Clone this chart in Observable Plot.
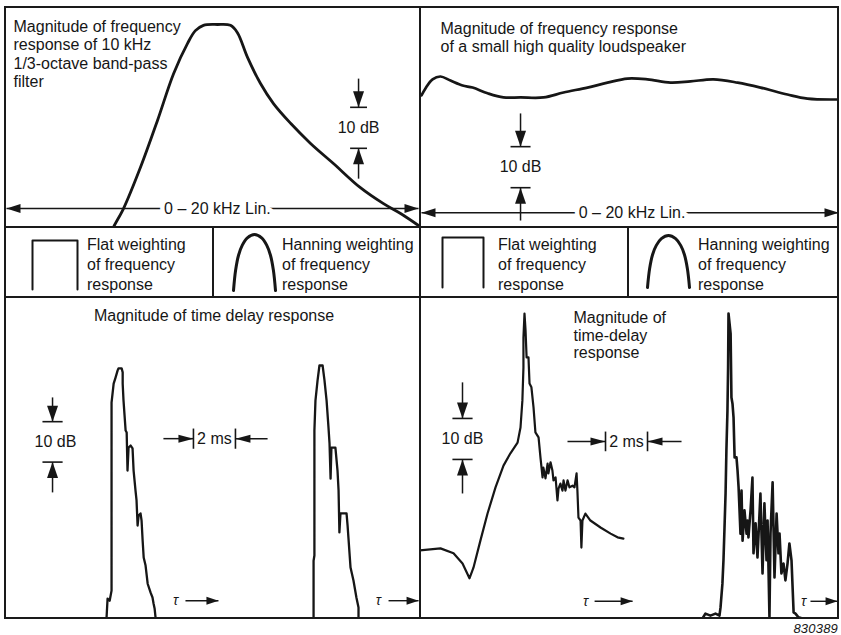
<!DOCTYPE html>
<html>
<head>
<meta charset="utf-8">
<script src="https://cdn.jsdelivr.net/npm/d3@7"></script>
<script src="https://cdn.jsdelivr.net/npm/@observablehq/plot@0.6"></script>
<style>
  body { margin: 0; background: #fff; }
  #fig { position: relative; width: 841px; height: 635px; font-family: 'Liberation Sans', Arial, Helvetica, sans-serif; color: #161616; overflow: hidden; }
  .abs { position: absolute; }
  .abs svg { display: block; background: transparent; }
  .rule { position: absolute; background: #1a1a1a; z-index: 5; }
  .note { position: absolute; font-size: 16px; line-height: 20px; white-space: nowrap; }
  .caption { position: absolute; right: 3px; top: 621px; font-size: 13px; font-style: italic; letter-spacing: 0.2px; }
</style>
</head>
<body>
<div id="fig"></div>
<script>
// ---------- data ----------
// 10 kHz 1/3-octave band-pass filter: magnitude (dB re peak) against frequency (kHz)
const filterFreq = [5.05, 5.19, 5.68, 6.50, 7.33, 8.11, 8.79, 9.17, 9.56, 10.24, 10.87, 11.21, 11.70, 12.33, 12.96, 13.79, 14.76, 15.87, 17.18, 18.30, 19.13, 20.0, 20.3];
const filterDb   = [-51.5, -49.5, -44.9, -34.9, -23.4, -12.0, -4.6, -1.5, -0.2, 0, -0.2, -2.0, -8.0, -14.4, -19.3, -24.1, -29.0, -33.9, -39.8, -43.7, -46.1, -49.0, -50.0];

// small high quality loudspeaker: magnitude (dB re maximum) against frequency (kHz)
const speakerFreq = [0.0, 0.19, 0.53, 0.91, 1.39, 1.97, 2.45, 3.17, 3.93, 4.75, 5.85, 6.81, 7.96, 8.92, 9.88, 10.84, 11.94, 12.90, 14.00, 15.16, 16.26, 17.55, 18.51, 20.0];
const speakerDb   = [-4.6, -2.9, -0.7, 0, -1.0, -2.2, -2.7, -4.1, -5.1, -5.1, -5.1, -3.9, -2.7, -1.5, -0.5, -0.7, -1.5, -1.2, -0.7, -1.5, -2.7, -4.4, -5.4, -5.6];

// time-delay magnitude: τ (ms re peak) and level (dB re peak)
const filterFlatTau = [-0.67, -0.62, -0.52, -0.43, -0.43, -0.33, -0.24, -0.14, -0.10, 0.05, 0.10, 0.10, 0.14, 0.19, 0.24, 0.29, 0.33, 0.38, 0.48, 0.57, 0.62, 0.71, 0.76, 0.81, 0.86, 0.95, 1.00, 1.05, 1.10, 1.19, 1.29, 1.43, 1.52, 1.57, 1.62, 1.67];
const filterFlatDb  = [-62.6, -57.7, -58.2, -55.7, -9.2, -4.5, -3.0, -1.2, -0.7, -0.7, -1.7, -4.5, -8.7, -12.4, -16.1, -16.6, -26.0, -20.3, -19.8, -20.5, -26.0, -30.9, -33.4, -39.6, -37.1, -36.6, -38.4, -43.3, -47.5, -49.5, -54.0, -56.2, -57.4, -58.9, -60.1, -62.6];

const filterHannTau = [-0.33, -0.33, -0.29, -0.29, -0.24, -0.14, -0.05, 0.10, 0.19, 0.29, 0.38, 0.43, 0.48, 0.52, 0.71, 0.81, 0.86, 0.90, 0.95, 1.24, 1.29, 1.33, 1.43, 1.57, 1.71, 1.81, 1.81];
const filterHannDb  = [-62.6, -48.3, -47.0, -16.1, -8.7, -3.7, 0, 0, -3.7, -8.7, -15.3, -19.3, -28.0, -20.3, -20.3, -26.0, -30.9, -41.3, -36.6, -36.6, -39.6, -42.6, -50.0, -53.2, -57.4, -59.9, -62.6];

const speakerFlatTau = [-5.00, -4.00, -3.38, -2.95, -2.62, -2.43, -2.10, -1.76, -1.38, -1.00, -0.67, -0.33, -0.19, -0.10, -0.05, -0.05, 0, 0.05, 0.10, 0.19, 0.24, 0.33, 0.43, 0.52, 0.67, 0.76, 0.86, 0.90, 1.00, 1.10, 1.14, 1.24, 1.33, 1.38, 1.48, 1.57, 1.62, 1.71, 1.81, 1.86, 1.95, 2.05, 2.14, 2.29, 2.38, 2.48, 2.52, 2.57, 2.67, 2.71, 2.76, 2.90, 3.14, 3.62, 4.10, 4.43, 4.71];
const speakerFlatDb  = [-57.8, -57.3, -58.5, -61.0, -64.6, -62.0, -55.4, -48.8, -42.4, -37.1, -34.1, -31.5, -27.8, -21.2, -13.2, -5.9, 0, -4.1, -10.7, -10.7, -17.1, -18.0, -22.9, -29.0, -30.2, -35.1, -40.0, -37.6, -40.2, -36.6, -39.0, -36.3, -38.3, -40.7, -40.0, -45.6, -42.7, -41.5, -43.2, -40.7, -43.2, -40.7, -42.4, -42.0, -42.4, -39.0, -43.2, -49.8, -50.5, -57.1, -50.5, -48.8, -50.5, -52.2, -53.7, -54.6, -54.9];

const speakerHannTau = [-1.24, -1.10, -0.86, -0.62, -0.43, -0.38, -0.29, -0.24, -0.19, -0.14, -0.10, -0.05, -0.02, 0, 0.10, 0.14, 0.19, 0.24, 0.29, 0.38, 0.43, 0.48, 0.57, 0.62, 0.67, 0.76, 0.86, 0.90, 0.95, 1.05, 1.14, 1.19, 1.29, 1.38, 1.52, 1.62, 1.71, 1.81, 1.86, 1.95, 2.00, 2.10, 2.19, 2.29, 2.38, 2.43, 2.52, 2.62, 2.71, 2.81, 2.90, 3.00, 3.10, 3.19, 3.33, 3.52];
const speakerHannDb  = [-74.4, -73.2, -73.7, -73.2, -73.7, -71.7, -65.9, -60.2, -52.2, -43.9, -33.4, -23.7, -13.2, 0, -4.9, -20.5, -22.0, -25.4, -35.1, -35.1, -38.3, -42.4, -53.7, -43.2, -55.4, -48.0, -53.7, -50.5, -54.6, -48.0, -40.0, -58.5, -51.2, -59.5, -43.9, -63.4, -46.3, -60.2, -50.5, -74.1, -53.7, -41.2, -64.4, -48.8, -58.5, -53.7, -63.4, -61.0, -65.1, -61.0, -56.1, -60.2, -72.9, -73.2, -74.1, -74.4];

// weighting window shapes (normalised time, normalised weight)
const flatT = [0, 0, 1, 1];
const flatW = [0, 1, 1, 0];
const hannT = [0, 0.05, 0.12, 0.21, 0.33, 0.5, 0.67, 0.79, 0.88, 0.95, 1];
const hannW = [0, 0.36, 0.63, 0.81, 0.94, 1, 0.94, 0.81, 0.63, 0.36, 0];

// text
const titleFilter = "Magnitude of frequency\nresponse of 10 kHz\n1/3-octave band-pass\nfilter";
const titleSpeaker = "Magnitude of frequency response\nof a small high quality loudspeaker";
const titleDelayLeft = "Magnitude of time delay response";
const titleDelayRight = "Magnitude of\ntime-delay\nresponse";
const spanLabel = "0 \u2013 20 kHz Lin.";
const flatLabel = "Flat weighting\nof frequency\nresponse";
const hannLabel = "Hanning weighting\nof frequency\nresponse";
const figureNumber = "830389";

// ---------- drawing helpers ----------
const fig = document.getElementById("fig");
const ink = "#161616";
const font = "'Liberation Sans', Arial, Helvetica, sans-serif";
const pts = (xs, ys) => xs.map((x, i) => ({x, y: ys[i]}));

// filled arrowhead whose tip sits on the point
function head(dir, L, W) {
  const a = {right: 0, down: 90, left: 180, up: 270}[dir] * Math.PI / 180;
  const c = Math.cos(a), s = Math.sin(a);
  const p = [[0, 0], [-L, -W / 2], [-L, W / 2]].map(([x, y]) => [x * c - y * s, x * s + y * c]);
  return {draw(ctx) { ctx.moveTo(p[0][0], p[0][1]); ctx.lineTo(p[1][0], p[1][1]); ctx.lineTo(p[2][0], p[2][1]); ctx.closePath(); }};
}

function arrow(x1, y1, x2, y2, dir, L = 15, W = 9, sw = 1.5) {
  return [
    Plot.link([{x1, y1, x2, y2}], {x1: "x1", y1: "y1", x2: "x2", y2: "y2", stroke: ink, strokeWidth: sw}),
    Plot.dot([{x: x2, y: y2}], {x: "x", y: "y", symbol: head(dir, L, W), r: 5, fill: ink, stroke: "none"})
  ];
}

function label(x, y, text, o = {}) {
  return Plot.text([{x, y, text}], {x: "x", y: "y", text: "text", fill: ink, fontSize: 16, ...o});
}

// 10 dB scale bar: two ticks exactly 10 dB apart, arrows pointing in from outside
function dbBar(b) {
  const bottom = b.top - 10;
  return [
    Plot.link([b.top, bottom], {x1: () => b.x - b.half, x2: () => b.x + b.half, y1: d => d, y2: d => d, stroke: ink, strokeWidth: 1.6}),
    ...arrow(b.x, b.from, b.x, b.top, "down", 16, 11),
    ...arrow(b.x, b.to, b.x, bottom, "up", 16, 11),
    label(b.labelX ?? b.x, b.top - 5, "10 dB")
  ];
}

// 2 ms marker: two bars exactly 2 ms apart with arrows pointing in
function msBar(m) {
  return [
    Plot.link([m.x, m.x + 2], {x1: d => d, x2: d => d, y1: () => m.y + m.half, y2: () => m.y - m.half, stroke: ink, strokeWidth: 1.6}),
    ...arrow(m.from, m.y, m.x, m.y, "right", 15, 8),
    ...arrow(m.to, m.y, m.x + 2, m.y, "left", 15, 8),
    label(m.x + 1, m.y, "2 ms")
  ];
}

// "τ →" direction note
function tauNote(x, y, x1, x2) {
  return [
    label(x, y, "\u03c4", {fontStyle: "italic", fontSize: 14}),
    ...arrow(x1, y, x2, y, "right", 12, 8, 1.4)
  ];
}

// 0–20 kHz span arrow across a panel
function spanAxis(y, lx) {
  return [
    ...arrow(lx, y, 0, y, "left", 14, 9),
    ...arrow(lx, y, 20, y, "right", 14, 9),
    label(lx, y, spanLabel, {stroke: "white", strokeWidth: 9, paintOrder: "stroke"})
  ];
}

function panel({left, top, width, height, x, y, marks}) {
  const div = document.createElement("div");
  div.className = "abs";
  Object.assign(div.style, {left: left + "px", top: top + "px", width: width + "px", height: height + "px"});
  div.append(Plot.plot({
    width, height,
    marginTop: 0, marginRight: 0, marginBottom: 0, marginLeft: 0,
    x: {...x, axis: null},
    y: {...y, axis: null},
    style: {background: "transparent", fontFamily: font, fontSize: "16px", color: ink, overflow: "hidden"},
    marks
  }));
  fig.append(div);
}

const title = (text, dx, dy, o = {}) =>
  Plot.text([text], {frameAnchor: "top-left", textAnchor: "start", lineAnchor: "top", dx, dy, fontSize: 16, lineHeight: 1.16, fill: ink, ...o});

// ---------- top left: band-pass filter ----------
panel({
  left: 5, top: 7, width: 415, height: 220,
  x: {domain: [0, 20], range: [1, 413]},
  y: {domain: [0, -50], range: [17, 222]},
  marks: [
    title(titleFilter, 8, 11),
    Plot.line(pts(filterFreq, filterDb), {x: "x", y: "y", curve: "catmull-rom", stroke: ink, strokeWidth: 2.8}),
    ...spanAxis(-44.9, 10.24),
    ...dbBar({x: 17.09, top: -20.2, half: 0.41, from: -13.2, to: -37.6})
  ]
});

// ---------- top right: loudspeaker ----------
panel({
  left: 420, top: 7, width: 418, height: 220,
  x: {domain: [0, 20], range: [1, 418]},
  y: {domain: [0, -36.8], range: [69, 220]},
  marks: [
    title(titleSpeaker, 20, 14, {lineHeight: 1.1}),
    Plot.line(pts(speakerFreq, speakerDb), {x: "x", y: "y", curve: "catmull-rom", stroke: ink, strokeWidth: 2.7}),
    ...spanAxis(-33.2, 10.1),
    ...dbBar({x: 4.75, top: -17.1, half: 0.48, from: -9.0, to: -35.1})
  ]
});

// ---------- bottom left: filter time-delay responses ----------
const filterFlatAt = 5.48, filterHannAt = 15.0;
panel({
  left: 5, top: 297, width: 415, height: 321,
  x: {domain: [0, 415 / 21], range: [0, 415]},
  y: {domain: [0, -62.6], range: [68, 321]},
  marks: [
    Plot.text([titleDelayLeft], {frameAnchor: "top", lineAnchor: "top", dx: 1, dy: 12, fontSize: 16, fill: ink}),
    Plot.line(pts(filterFlatTau, filterFlatDb), {x: d => d.x + filterFlatAt, y: "y", stroke: ink, strokeWidth: 2.3}),
    Plot.line(pts(filterHannTau, filterHannDb), {x: d => d.x + filterHannAt, y: "y", stroke: ink, strokeWidth: 2.3}),
    ...dbBar({x: 2.24, top: -13.9, half: 0.48, from: -7.9, to: -31.4, labelX: 2.38}),
    ...msBar({x: 8.95, y: -18.1, half: 2.5, from: 7.52, to: 12.48}),
    ...tauNote(8.1, -58.2, 8.57, 10.14),
    ...tauNote(17.76, -58.2, 18.24, 19.67)
  ]
});

// ---------- bottom right: loudspeaker time-delay responses ----------
const speakerFlatAt = 4.952, speakerHannAt = 14.667;
panel({
  left: 420, top: 297, width: 418, height: 321,
  x: {domain: [0, 418 / 21], range: [0, 418]},
  y: {domain: [0, -74.4], range: [16, 321]},
  marks: [
    title(titleDelayRight, 153, 13, {lineHeight: 1.1}),
    Plot.line(pts(speakerFlatTau, speakerFlatDb), {x: d => d.x + speakerFlatAt, y: "y", stroke: ink, strokeWidth: 2.2}),
    Plot.line(pts(speakerHannTau, speakerHannDb), {x: d => d.x + speakerHannAt, y: "y", stroke: ink, strokeWidth: 2.6}),
    ...dbBar({x: 2.0, top: -25.6, half: 0.48, from: -16.8, to: -43.9}),
    ...msBar({x: 8.81, y: -31.2, half: 2.4, from: 7.0, to: 12.43}),
    ...tauNote(7.86, -70.2, 8.29, 10.1),
    ...tauNote(18.24, -70.2, 18.57, 19.86)
  ]
});

// ---------- weighting strip: window icons and notes ----------
function icon(left, top, width, height, ts, ws, sw, curve) {
  const div = document.createElement("div");
  div.className = "abs";
  Object.assign(div.style, {left: left + "px", top: top + "px"});
  div.append(Plot.plot({
    width, height,
    marginTop: 0, marginRight: 0, marginBottom: 0, marginLeft: 0,
    x: {domain: [0, 1], range: [2, width - 2], axis: null},
    y: {domain: [0, 1], range: [height - 2, 2], axis: null},
    style: {background: "transparent"},
    marks: [Plot.line(pts(ts, ws), {x: "x", y: "y", curve, stroke: ink, strokeWidth: sw})]
  }));
  fig.append(div);
}
icon(30, 238, 49, 53, flatT, flatW, 2, "linear");
icon(231, 232, 46, 60, hannT, hannW, 3, "catmull-rom");
icon(440, 235, 45, 54, flatT, flatW, 2, "linear");
icon(645, 233, 46, 56, hannT, hannW, 3, "catmull-rom");

function note(left, top, text) {
  const div = document.createElement("div");
  div.className = "note";
  Object.assign(div.style, {left: left + "px", top: top + "px"});
  text.split("\n").forEach((line, i) => {
    if (i) div.append(document.createElement("br"));
    div.append(document.createTextNode(line));
  });
  fig.append(div);
}
note(87, 234.5, flatLabel);
note(282, 234.5, hannLabel);
note(498, 234.5, flatLabel);
note(698, 234.5, hannLabel);

// ---------- frame lines ----------
[
  [4, 6, 835, 2],     // top
  [4, 617, 835, 2],   // bottom
  [4, 6, 2, 613],     // left
  [837, 6, 2, 613],   // right
  [419, 6, 2, 613],   // centre divider
  [4, 226, 835, 2],   // strip top
  [4, 296, 835, 2],   // strip bottom
  [212, 226, 1.6, 72],  // strip divider left
  [627, 226, 1.6, 72]   // strip divider right
].forEach(([l, t, w, h]) => {
  const d = document.createElement("div");
  d.className = "rule";
  Object.assign(d.style, {left: l + "px", top: t + "px", width: w + "px", height: h + "px"});
  fig.append(d);
});

const cap = document.createElement("div");
cap.className = "caption";
cap.textContent = figureNumber;
fig.append(cap);
</script>
</body>
</html>
